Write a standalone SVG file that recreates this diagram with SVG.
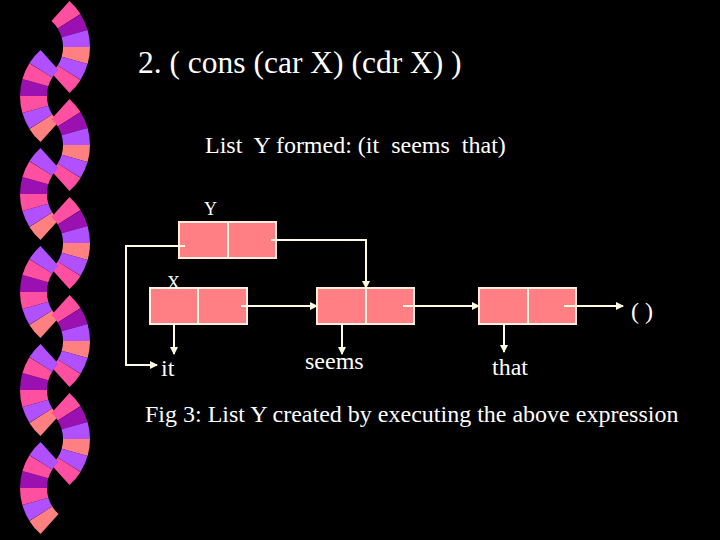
<svg xmlns="http://www.w3.org/2000/svg" xmlns:xlink="http://www.w3.org/1999/xlink" width="720" height="540" viewBox="0 0 720 540">
<style>
.t{font-family:"Liberation Serif",serif;fill:#fff;white-space:pre}
.box{fill:#ff7f84;stroke:#ffeedd;stroke-width:2}
.ln{stroke:#fffbe0;stroke-width:2;fill:none}
.a{fill:#ff4fa0}.b{fill:#9b10b0}.c{fill:#b050ff}.d{fill:#ff8080}
</style>
<defs>
<path id="w" d="M34.7,-4.9 L61.4,-8.6 A62,62 0 0 1 61.4,8.6 L34.7,4.9 A35,35 0 0 0 34.7,-4.9Z"/>
<g id="arc"><use href="#w" class="a" transform="rotate(-40)"/><use href="#w" class="b" transform="rotate(-24)"/><use href="#w" class="c" transform="rotate(-8)"/><use href="#w" class="d" transform="rotate(8)"/><use href="#w" class="c" transform="rotate(24)"/><use href="#w" class="a" transform="rotate(40)"/></g>
<g id="arc2"><use href="#w" class="d" transform="rotate(-40)"/><use href="#w" class="c" transform="rotate(-24)"/><use href="#w" class="a" transform="rotate(-8)"/><use href="#w" class="b" transform="rotate(8)"/><use href="#w" class="a" transform="rotate(24)"/><use href="#w" class="c" transform="rotate(40)"/></g>
<marker id="ar" markerWidth="8" markerHeight="8" refX="7" refY="4" orient="auto" markerUnits="userSpaceOnUse"><path d="M0,0 L8,4 L0,8Z" fill="#fffbe0"/></marker>
</defs>
<rect width="720" height="540" fill="#000"/>
<g id="decor">
<use href="#arc" transform="translate(28,47)"/>
<use href="#arc2" transform="translate(82,96) rotate(180)"/>
<use href="#arc" transform="translate(28,145)"/>
<use href="#arc2" transform="translate(82,194) rotate(180)"/>
<use href="#arc" transform="translate(28,243)"/>
<use href="#arc2" transform="translate(82,292) rotate(180)"/>
<use href="#arc" transform="translate(28,341)"/>
<use href="#arc2" transform="translate(82,390) rotate(180)"/>
<use href="#arc" transform="translate(28,439)"/>
<use href="#arc2" transform="translate(82,488) rotate(180)"/>
</g>
<text class="t" x="138" y="73" font-size="31.5">2. ( cons (car X) (cdr X) )</text>
<text class="t" x="205" y="153" font-size="24" xml:space="preserve">List  Y formed: (it  seems  that)</text>
<g id="nodeY"><rect class="box" x="179" y="222" width="97" height="36"/><line class="ln" x1="228" y1="222" x2="228" y2="258"/><text class="t" x="204" y="215" font-size="18">Y</text></g>
<g id="nodeX"><rect class="box" x="150" y="288" width="97" height="36"/><line class="ln" x1="198" y1="288" x2="198" y2="324"/><text class="t" x="167" y="289" font-size="18">X</text></g>
<g id="nodeSeems"><rect class="box" x="317" y="288" width="97" height="36"/><line class="ln" x1="366" y1="288" x2="366" y2="324"/></g>
<g id="nodeThat"><rect class="box" x="479" y="288" width="97" height="36"/><line class="ln" x1="528" y1="288" x2="528" y2="324"/></g>
<g id="connectors">
<path class="ln" d="M185,246 H126 V365 H157" marker-end="url(#ar)"/>
<path class="ln" d="M271,240 H366 V288" marker-end="url(#ar)"/>
<path class="ln" d="M241,306 H317" marker-end="url(#ar)"/>
<path class="ln" d="M174,324 V354" marker-end="url(#ar)"/>
<path class="ln" d="M342,324 V354" marker-end="url(#ar)"/>
<path class="ln" d="M403,306 H479" marker-end="url(#ar)"/>
<path class="ln" d="M504,324 V352" marker-end="url(#ar)"/>
<path class="ln" d="M564,306 H623" marker-end="url(#ar)"/>
</g>
<text class="t" x="631" y="319" font-size="24">( )</text>
<text class="t" x="161" y="376" font-size="24">it</text>
<text class="t" x="305" y="369" font-size="24">seems</text>
<text class="t" x="492" y="375" font-size="24">that</text>
<text class="t" x="145" y="422" font-size="24">Fig 3: List Y created by executing the above expression</text>
</svg>
